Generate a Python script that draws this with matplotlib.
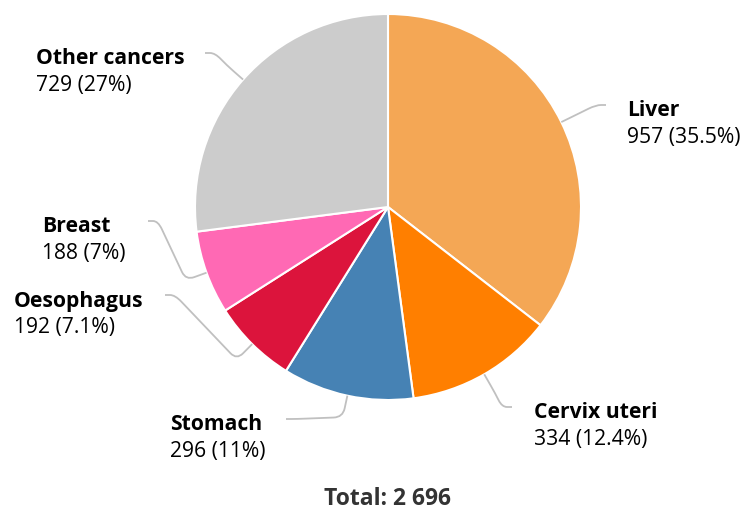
import matplotlib
matplotlib.use("Agg")
import matplotlib.pyplot as plt
from matplotlib.path import Path
from matplotlib.patches import PathPatch
import numpy as np

plt.rcParams['font.family'] = ['Open Sans', 'DejaVu Sans']

# data
cancers = ['Liver', 'Cervix uteri', 'Stomach', 'Oesophagus', 'Breast', 'Other cancers']
cases = [957, 334, 296, 192, 188, 729]
colors = ['#F4A755', '#FF7F00', '#4682B4', '#DC143C', '#FF69B4', '#CCCCCC']

# label layout (pixels): text left x, name y, leader end x
label_pos = {
    'Liver': (627, 111, 606),
    'Cervix uteri': (534, 413, 512),
    'Stomach': (170, 425, 286),
    'Oesophagus': (14, 301, 165),
    'Breast': (42, 227, 148),
    'Other cancers': (36, 59, 205),
}

W, H = 744, 513
cx, cy, R = 388, 207, 193

fig = plt.figure(figsize=(W / 100, H / 100), dpi=100)
ax = fig.add_axes([0, 0, 1, 1])

wedges, _ = ax.pie(cases, colors=colors, startangle=-90, counterclock=True,
                   center=(cx, cy), radius=R,
                   wedgeprops=dict(edgecolor='white', linewidth=1.5))
ax.set_xlim(0, W)
ax.set_ylim(H, 0)
ax.set_aspect('auto')
ax.axis('off')


def rounded_path(pts, rad=9):
    verts = [pts[0]]
    codes = [Path.MOVETO]
    for i in range(1, len(pts) - 1):
        p0, p1, p2 = np.array(pts[i - 1]), np.array(pts[i]), np.array(pts[i + 1])
        d1 = p1 - p0
        d2 = p2 - p1
        r1 = min(rad, np.linalg.norm(d1) / 2)
        r2 = min(rad, np.linalg.norm(d2) / 2)
        a = p1 - d1 / np.linalg.norm(d1) * r1
        b = p1 + d2 / np.linalg.norm(d2) * r2
        verts += [tuple(a), tuple(p1), tuple(b)]
        codes += [Path.LINETO, Path.CURVE3, Path.CURVE3]
    verts.append(pts[-1])
    codes.append(Path.LINETO)
    return Path(verts, codes)


total = sum(cases)
for w, name, val in zip(wedges, cancers, cases):
    tx, ty, ex = label_pos[name]
    mid = np.deg2rad((w.theta1 + w.theta2) / 2)
    dx, dy = np.cos(mid), np.sin(mid)
    edge = (cx + R * dx, cy + R * dy)
    knee = (cx + (R + 22) * dx, cy + (R + 22) * dy)
    ey = ty - 6
    side = 1 if ex > cx else -1
    hpt = (ex - side * 10, ey)
    p = rounded_path([edge, knee, hpt, (ex, ey)])
    ax.add_patch(PathPatch(p, facecolor='none', edgecolor='#C0C0C0', linewidth=1.3))

    pct = val / total * 100
    pct_s = f"{pct:.1f}".rstrip('0').rstrip('.')
    ax.text(tx, ty, name, fontsize=15.2, fontweight='bold', color='black',
            ha='left', va='center')
    ax.text(tx, ty + 26, f"{val} ({pct_s}%)", fontsize=15.2, color='black',
            ha='left', va='center')

ax.text(cx, 499, "Total: " + f"{total:,}".replace(',', ' '), fontsize=16.5,
        fontweight='bold', color='#333333', ha='center', va='center')

fig.savefig('out.png', dpi=100)
